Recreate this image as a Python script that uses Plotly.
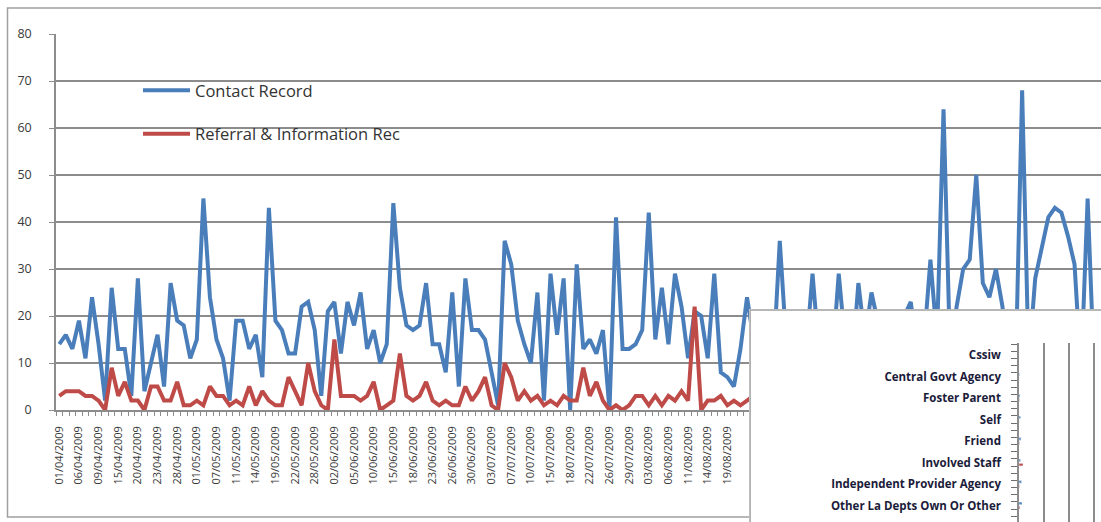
import plotly.graph_objects as go

# ---- daily counts -------------------------------------------------------
dates = [
    "01/04/2009", "02/04/2009", "03/04/2009", "06/04/2009", "07/04/2009", "08/04/2009", "09/04/2009", "13/04/2009", "14/04/2009",
    "15/04/2009", "16/04/2009", "17/04/2009", "20/04/2009", "21/04/2009", "22/04/2009", "23/04/2009", "24/04/2009", "27/04/2009",
    "28/04/2009", "29/04/2009", "30/04/2009", "01/05/2009", "05/05/2009", "06/05/2009", "07/05/2009", "08/05/2009", "09/05/2009",
    "11/05/2009", "12/05/2009", "13/05/2009", "14/05/2009", "15/05/2009", "18/05/2009", "19/05/2009", "20/05/2009", "21/05/2009",
    "22/05/2009", "26/05/2009", "27/05/2009", "28/05/2009", "29/05/2009", "01/06/2009", "02/06/2009", "03/06/2009", "04/06/2009",
    "05/06/2009", "08/06/2009", "09/06/2009", "10/06/2009", "11/06/2009", "12/06/2009", "15/06/2009", "16/06/2009", "17/06/2009",
    "18/06/2009", "19/06/2009", "22/06/2009", "23/06/2009", "24/06/2009", "25/06/2009", "26/06/2009", "28/06/2009", "29/06/2009",
    "30/06/2009", "01/07/2009", "02/07/2009", "03/07/2009", "05/07/2009", "06/07/2009", "07/07/2009", "08/07/2009", "09/07/2009",
    "10/07/2009", "13/07/2009", "14/07/2009", "15/07/2009", "16/07/2009", "17/07/2009", "18/07/2009", "20/07/2009", "21/07/2009",
    "22/07/2009", "23/07/2009", "24/07/2009", "26/07/2009", "27/07/2009", "28/07/2009", "29/07/2009", "30/07/2009", "31/07/2009",
    "03/08/2009", "04/08/2009", "05/08/2009", "06/08/2009", "07/08/2009", "10/08/2009", "11/08/2009", "12/08/2009", "13/08/2009",
    "14/08/2009", "17/08/2009", "18/08/2009", "19/08/2009", "20/08/2009", "21/08/2009", "24/08/2009", "25/08/2009", "26/08/2009",
    "27/08/2009", "28/08/2009", "01/09/2009", "02/09/2009", "03/09/2009", "04/09/2009", "07/09/2009", "08/09/2009", "09/09/2009",
    "10/09/2009", "11/09/2009", "14/09/2009", "15/09/2009", "16/09/2009", "17/09/2009", "18/09/2009", "21/09/2009", "22/09/2009",
    "23/09/2009", "24/09/2009", "25/09/2009", "28/09/2009", "29/09/2009", "30/09/2009", "01/10/2009", "02/10/2009", "05/10/2009",
    "06/10/2009", "07/10/2009", "08/10/2009", "09/10/2009", "12/10/2009", "13/10/2009", "14/10/2009", "15/10/2009", "16/10/2009",
    "19/10/2009", "20/10/2009", "21/10/2009", "22/10/2009", "23/10/2009", "26/10/2009", "27/10/2009", "28/10/2009", "29/10/2009",
    "30/10/2009", "02/11/2009", "03/11/2009", "04/11/2009", "05/11/2009", "06/11/2009", "09/11/2009",
]

# dates that carry a printed label on the category axis
labelled_dates = [
    "01/04/2009", "06/04/2009", "09/04/2009", "15/04/2009", "20/04/2009", "23/04/2009", "28/04/2009",
    "01/05/2009", "07/05/2009", "11/05/2009", "14/05/2009", "19/05/2009", "22/05/2009", "28/05/2009",
    "02/06/2009", "05/06/2009", "10/06/2009", "15/06/2009", "18/06/2009", "23/06/2009", "26/06/2009",
    "30/06/2009", "03/07/2009", "07/07/2009", "10/07/2009", "15/07/2009", "18/07/2009", "22/07/2009",
    "26/07/2009", "29/07/2009", "03/08/2009", "06/08/2009", "11/08/2009", "14/08/2009", "19/08/2009",
]

contact_record = [
    14, 16, 13, 19, 11, 24, 14, 2, 26, 13,
    13, 3, 28, 4, 10, 16, 5, 27, 19, 18,
    11, 15, 45, 24, 15, 11, 2, 19, 19, 13,
    16, 7, 43, 19, 17, 12, 12, 22, 23, 17,
    3, 21, 23, 12, 23, 18, 25, 13, 17, 10,
    14, 44, 26, 18, 17, 18, 27, 14, 14, 8,
    25, 5, 28, 17, 17, 15, 8, 1, 36, 31,
    19, 14, 10, 25, 2, 29, 16, 28, 0, 31,
    13, 15, 12, 17, 0, 41, 13, 13, 14, 17,
    42, 15, 26, 14, 29, 22, 11, 21, 20, 11,
    29, 8, 7, 5, 13, 24, 15, 12, 18, 10,
    36, 14, 10, 16, 12, 29, 12, 15, 10, 29,
    14, 9, 27, 15, 25, 18, 12, 15, 17, 20,
    23, 12, 14, 32, 15, 64, 12, 22, 30, 32,
    50, 27, 24, 30, 22, 6, 8, 68, 10, 28,
    35, 41, 43, 42, 37, 31, 8, 45, 8, 12,
]

referral_info = [
    3, 4, 4, 4, 3, 3, 2, 0, 9, 3,
    6, 2, 2, 0, 5, 5, 2, 2, 6, 1,
    1, 2, 1, 5, 3, 3, 1, 2, 1, 5,
    1, 4, 2, 1, 1, 7, 4, 1, 10, 4,
    1, 0, 15, 3, 3, 3, 2, 3, 6, 0,
    1, 2, 12, 3, 2, 3, 6, 2, 1, 2,
    1, 1, 5, 2, 4, 7, 1, 0, 10, 7,
    2, 4, 2, 3, 1, 2, 1, 3, 2, 2,
    9, 3, 6, 2, 0, 1, 0, 1, 3, 3,
    1, 3, 1, 3, 2, 4, 2, 22, 0, 2,
    2, 3, 1, 2, 1, 2, 3, 1, 2, 4,
    2, 1, 3, 2, 1, 5, 2, 1, 3, 2,
    1, 4, 2, 3, 1, 2, 6, 2, 1, 3,
    2, 1, 4, 2, 3, 8, 2, 1, 3, 2,
    5, 2, 1, 3, 2, 1, 4, 9, 2, 3,
    2, 4, 3, 2, 1, 3, 2, 6, 1, 2,
]

y_ticks = [0, 10, 20, 30, 40, 50, 60, 70, 80]

# ---- referral sources (inset bar chart) ---------------------------------
sources = [
    "Cssiw", "Central Govt Agency", "Foster Parent", "Self", "Friend",
    "Involved Staff", "Independent Provider Agency", "Other La Depts Own Or Other",
]
source_contact = [0, 1, 2, 3, 4, 3, 5, 6]
source_referral = [0, 0, 1, 0, 1, 8, 1, 2]
source_grid = [50, 100, 150]

assert len(dates) == len(contact_record) == len(referral_info)

W, H = 1101, 522
BLUE = "#4A7EBB"
RED = "#BE4B48"
GRID = "#8C8C8C"
TEXT = "#3A3A3A"
CAT_PX = 6.55          # width of one day on the category axis
SRC_PX = 21.5          # height of one labelled source row


def fx(p):
    return p / W


def fy(p):
    return 1 - p / H


tick_text = [d if d in labelled_dates else "" for d in dates]
source_pos = list(range(len(sources)))   # row index of each source on the inset axis

fig = go.Figure()

fig.add_trace(go.Scatter(
    x=dates, y=contact_record, mode="lines", name="Contact Record",
    line=dict(color=BLUE, width=4), legendgroup="a",
))
fig.add_trace(go.Scatter(
    x=dates, y=referral_info, mode="lines", name="Referral & Information Rec",
    line=dict(color=RED, width=4), legendgroup="b",
))

fig.add_trace(go.Bar(
    y=source_pos, x=source_contact, orientation="h", marker_color=BLUE,
    xaxis="x3", yaxis="y3", showlegend=False, width=0.12, offset=-0.16,
    hovertext=sources,
))
fig.add_trace(go.Bar(
    y=source_pos, x=source_referral, orientation="h", marker_color=RED,
    xaxis="x3", yaxis="y3", showlegend=False, width=0.12, offset=0.04,
    hovertext=sources,
))

src_range = [(H - 355) / SRC_PX, -(355 - 343) / SRC_PX]

fig.update_layout(
    width=W, height=H,
    margin=dict(l=0, r=0, t=0, b=0, autoexpand=False),
    paper_bgcolor="white", plot_bgcolor="white",
    font=dict(family="Open Sans", color=TEXT),
    showlegend=True,
    legend=dict(
        x=fx(138), y=fy(73), xanchor="left", yanchor="top",
        bgcolor="rgba(0,0,0,0)", font=dict(size=16.5, color="#333333"),
        traceorder="grouped", tracegroupgap=19, itemwidth=47,
    ),
    xaxis=dict(
        domain=[fx(56), 1], type="category", categoryorder="array", categoryarray=dates,
        range=[-0.5, -0.5 + (W - 56) / CAT_PX], automargin=False,
        tickmode="array", tickvals=dates, ticktext=tick_text, tickson="boundaries",
        ticks="outside", ticklen=4, tickcolor=GRID, tickwidth=1,
        showline=True, linecolor=GRID, linewidth=1.5,
        showgrid=False, zeroline=False, tickangle=-90,
        tickfont=dict(size=11, color=TEXT), ticklabelstandoff=10,
    ),
    yaxis=dict(
        domain=[fy(410), fy(34)], range=[0, 80], tickmode="array", tickvals=y_ticks,
        automargin=False,
        ticks="outside", ticklen=5, tickcolor=GRID,
        showline=True, linecolor=GRID, linewidth=1.5,
        showgrid=True, gridcolor=GRID, gridwidth=1.5, zeroline=False,
        tickfont=dict(size=12.5, color=TEXT), ticklabelstandoff=15,
    ),
    # white panel holding the referral-source chart
    xaxis2=dict(domain=[fx(749), 1], range=[0, 1], anchor="y2", automargin=False,
                showgrid=False, zeroline=False, showticklabels=False, showline=False, ticks=""),
    yaxis2=dict(domain=[0, fy(309)], range=[0, 1], anchor="x2", automargin=False,
                showgrid=False, zeroline=False, showticklabels=False, showline=False, ticks=""),
    xaxis3=dict(
        domain=[fx(1019), 1], range=[0, (W - 1019) / 0.5], anchor="y3", automargin=False,
        tickmode="array", tickvals=source_grid, showticklabels=False, ticks="",
        showgrid=True, gridcolor=GRID, gridwidth=1.5, zeroline=False, showline=False,
    ),
    yaxis3=dict(
        domain=[0, fy(343)], anchor="x3", type="linear", automargin=False,
        range=src_range, tickmode="array", tickvals=source_pos, ticktext=sources,
        ticks="",
        minor=dict(ticks="outside", ticklen=6, tickwidth=1.2, tickcolor="#6E6E6E",
                   tickmode="linear", tick0=-0.5, dtick=1 / 3, showgrid=False),
        showline=True, linecolor=GRID, linewidth=1.5,
        showgrid=False, zeroline=False,
        tickfont=dict(size=11.5, color="#1B1B3A", family="Open Sans", weight=700),
        ticklabelstandoff=14,
    ),
    barmode="overlay",
    shapes=[
        # outer chart frame
        dict(type="rect", xref="paper", yref="paper", layer="below",
             x0=fx(7.5), x1=1.05, y0=fy(517), y1=fy(8),
             line=dict(color="#A0A0A0", width=1.5), fillcolor="rgba(0,0,0,0)"),
        # panel border
        dict(type="rect", xref="x2", yref="y2", layer="below",
             x0=0.003, x1=1.2, y0=-0.2, y1=0.995,
             line=dict(color="#A0A0A0", width=1.5), fillcolor="white"),
    ],
)

fig.write_html("out.html")
